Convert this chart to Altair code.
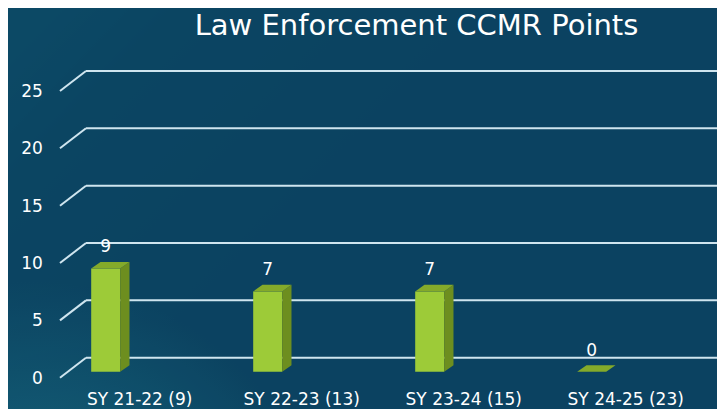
import altair as alt
import pandas as pd

# ---- data ----
categories = ["SY 21-22 (9)", "SY 22-23 (13)", "SY 23-24 (15)", "SY 24-25 (23)"]
values = [9, 7, 7, 0]
y_ticks = [0, 5, 10, 15, 20, 25]
title_text = "Law Enforcement CCMR Points"

# ---- geometry/style (scale units) ----
W, H = 709, 401
X_DOM = [-0.603, 3.7735]
Y_DOM = [-3.25, 31.71]
HALF_W = 0.0895          # half bar width (x units)
DX = 0.0574              # bar depth in x units
DY = 0.575               # bar depth in y units
WALL_X = -0.234          # left wall position at bar plane
FONT = "DejaVu Sans"

xs = alt.Scale(domain=X_DOM, nice=False, zero=False)
ys = alt.Scale(domain=Y_DOM, nice=False, zero=False)

bars = pd.DataFrame({"name": categories, "v": values, "i": list(range(len(values)))})
bars["xl"] = bars["i"] - HALF_W
bars["xr"] = bars["i"] + HALF_W
bars["lbl"] = bars["v"].astype(str)
bars["base"] = 0

side_rows, top_rows = [], []
for name, v, xl, xr in zip(bars["name"], bars["v"], bars["xl"], bars["xr"]):
    side_rows.append({"name": name, "x": xr, "y": v, "y2": 0})
    side_rows.append({"name": name, "x": xr + DX, "y": v + DY, "y2": DY})
    top_rows.append({"name": name, "y": v, "x": xl, "x2": xr})
    top_rows.append({"name": name, "y": v + DY, "x": xl + DX, "x2": xr + DX})
side = pd.DataFrame(side_rows)
top = pd.DataFrame(top_rows)

grid = pd.DataFrame({"v": y_ticks, "xw": WALL_X, "xe": X_DOM[1] + 0.3})

bg = alt.Chart(alt.Data(values=[{}])).mark_rect(
    color=alt.Gradient(
        gradient="linear",
        stops=[alt.GradientStop(color="#106678", offset=0),
               alt.GradientStop(color="#0c4a64", offset=0.3),
               alt.GradientStop(color="#0a3a58", offset=1)],
        x1=0, y1=0.15, x2=0.45, y2=0.4),
).encode(x=alt.value(-10), x2=alt.value(W + 10), y=alt.value(-10), y2=alt.value(H + 10))

bg2 = alt.Chart(alt.Data(values=[{}])).mark_rect(
    color=alt.Gradient(
        gradient="radial",
        stops=[alt.GradientStop(color="#1b7589", offset=0),
               alt.GradientStop(color="#0b4462", offset=1)],
        x1=0.05, y1=1.0, r1=0.0, x2=0.05, y2=1.0, r2=0.4),
    opacity=0.85,
).encode(x=alt.value(-10), x2=alt.value(W + 10), y=alt.value(-10), y2=alt.value(H + 10))

gcol = "#cfe5ef"
slant = alt.Chart(grid).mark_rule(
    color=gcol, strokeWidth=2, xOffset=-7.8, yOffset=6, x2Offset=18.2, y2Offset=-14
).encode(x=alt.X("xw:Q", scale=xs, axis=None), x2="xw:Q",
         y=alt.Y("v:Q", scale=ys, axis=None), y2="v:Q")

back = alt.Chart(grid).mark_rule(
    color=gcol, strokeWidth=2, xOffset=18.2, yOffset=-14, x2Offset=0, y2Offset=-14
).encode(x=alt.X("xw:Q", scale=xs, axis=None), x2="xe:Q",
         y=alt.Y("v:Q", scale=ys, axis=None))

ylabels = alt.Chart(grid).mark_text(
    color="white", font=FONT, fontSize=17, align="right", baseline="middle",
    xOffset=-25, yOffset=7
).encode(x=alt.X("xw:Q", scale=xs, axis=None), y=alt.Y("v:Q", scale=ys, axis=None),
         text=alt.Text("v:Q"))

front = alt.Chart(bars).mark_rect(color="#9dcb38").encode(
    x=alt.X("xl:Q", scale=xs, axis=None), x2="xr:Q",
    y=alt.Y("v:Q", scale=ys, axis=None), y2="base:Q")

sidef = alt.Chart(side).mark_area(color="#6d8e1f", interpolate="linear").encode(
    x=alt.X("x:Q", scale=xs, axis=None),
    y=alt.Y("y:Q", scale=ys, axis=None), y2="y2:Q", detail="name:N")

topf = alt.Chart(top).mark_area(color="#84aa2a", orient="horizontal", interpolate="linear").encode(
    y=alt.Y("y:Q", scale=ys, axis=None),
    x=alt.X("x:Q", scale=xs, axis=None), x2="x2:Q", detail="name:N")

vlabels = alt.Chart(bars).mark_text(
    color="white", font=FONT, fontSize=17, baseline="middle", align="center", dy=-21
).encode(x=alt.X("i:Q", scale=xs, axis=None), y=alt.Y("v:Q", scale=ys, axis=None),
         text="lbl:N")

clabels = alt.Chart(bars).mark_text(
    color="white", font=FONT, fontSize=17, baseline="middle", align="center",
    xOffset=34, yOffset=28
).encode(x=alt.X("i:Q", scale=xs, axis=None), y=alt.Y("base:Q", scale=ys, axis=None),
         text="name:N")

chart = alt.layer(bg, bg2, slant, back, ylabels, front, sidef, topf, vlabels, clabels).properties(
    width=W, height=H,
    title=alt.TitleParams(title_text, color="white", font=FONT, fontSize=29,
                          fontWeight="normal", anchor="middle", dx=54, dy=47),
    autosize=alt.AutoSizeParams(type="none"),
    padding=0,
).configure_view(stroke=None).configure(background="#0a3b59")

chart.save("out.html", embed_options={"renderer": "svg", "actions": False})
